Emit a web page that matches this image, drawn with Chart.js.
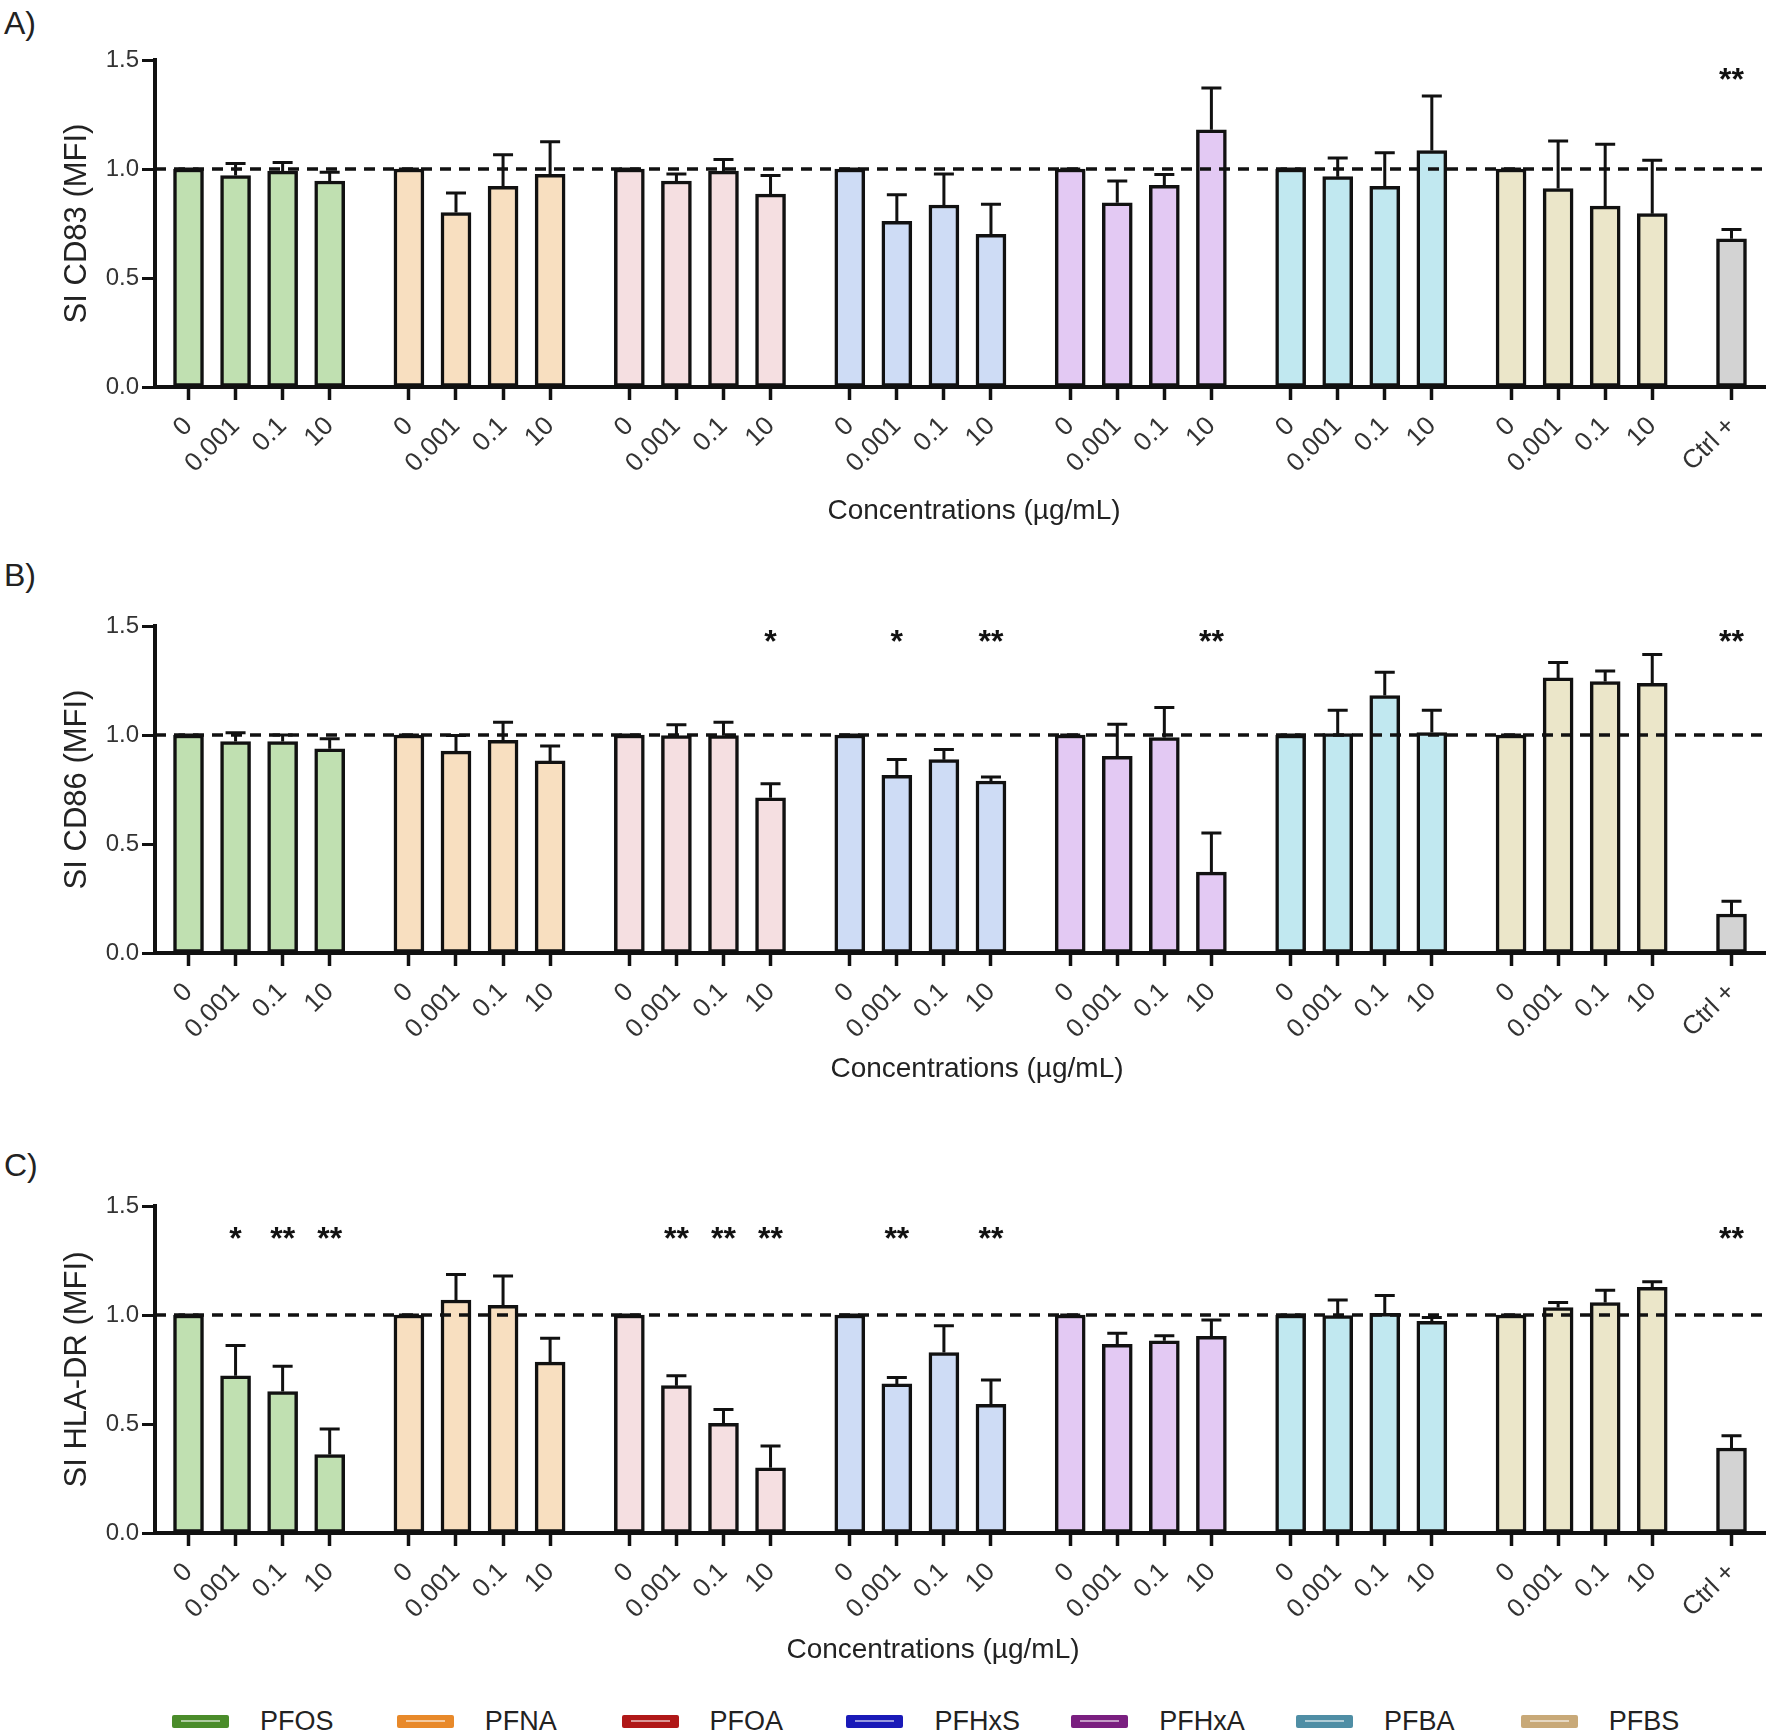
<!DOCTYPE html>
<html>
<head>
<meta charset="utf-8">
<script src="https://cdn.jsdelivr.net/npm/chart.js@4.4.1/dist/chart.umd.min.js"></script>
<style>
body{margin:0;background:#fff;width:1772px;height:1735px;position:relative;overflow:hidden;font-family:"Liberation Sans",Arial,sans-serif}
canvas{position:absolute;left:0}
.tag{position:absolute;left:4px;font-size:32px;line-height:32px;color:#222}
.legend{position:absolute;left:172px;top:1704px;height:34px;display:flex}
.item{width:224.8px;display:flex;align-items:center;font-size:27px;color:#222}
.swatch{width:57px;height:13px;border-radius:2px;margin-right:31px;position:relative}
.swatch i{position:absolute;left:9px;right:9px;top:5px;height:2px;opacity:.55;background:#fff}
</style>
</head>
<body>
<div class="tag" style="top:7px">A)</div>
<div class="tag" style="top:559px">B)</div>
<div class="tag" style="top:1149px">C)</div>
<canvas id="cd83" width="1772" height="532" style="top:0"></canvas>
<canvas id="cd86" width="1772" height="524" style="top:566px"></canvas>
<canvas id="hladr" width="1772" height="525" style="top:1146px"></canvas>
<div class="legend" id="legend"></div>
<script>
const compounds = ['PFOS', 'PFNA', 'PFOA', 'PFHxS', 'PFHxA', 'PFBA', 'PFBS'];
const concentrations = ['0', '0.001', '0.1', '10'];
const controlLabel = 'Ctrl +';
const yTicks = [0, 0.5, 1.0, 1.5];
const yTickLabels = ['0.0', '0.5', '1.0', '1.5'];

// bar fills per compound, then the positive control
const compoundFills = ['#c0e0b1', '#f8dfc0', '#f5dfe1', '#cedcf5', '#e3c9f3', '#c1e8f0', '#ebe6c9'];
const controlFill = '#d3d3d3';
const legendColors = ['#4a8c2a', '#e8892a', '#b01818', '#1a1ab8', '#7a1f80', '#4f8ea5', '#c8a978'];

// means and SD in order PFOS 0..10, PFNA 0..10, ... PFBS 0..10, Ctrl +
const cd83Mean = [1.00, 0.97, 0.99, 0.945, 1.00, 0.80, 0.92, 0.975, 1.00, 0.945, 0.99, 0.885,
  1.00, 0.76, 0.835, 0.70, 1.00, 0.845, 0.925, 1.18, 1.00, 0.965, 0.92, 1.085,
  1.00, 0.91, 0.83, 0.795, 0.68];
const cd83Sd = [0, 0.055, 0.04, 0.04, 0, 0.09, 0.145, 0.15, 0, 0.032, 0.054, 0.085,
  0, 0.122, 0.142, 0.138, 0, 0.10, 0.05, 0.192, 0, 0.085, 0.155, 0.25,
  0, 0.218, 0.283, 0.245, 0.042];
const cd83Stars = ['', '', '', '', '', '', '', '', '', '', '', '',
  '', '', '', '', '', '', '', '', '', '', '', '',
  '', '', '', '', '**'];

const cd86Mean = [1.00, 0.97, 0.97, 0.937, 1.00, 0.926, 0.975, 0.881, 1.00, 0.997, 0.997, 0.712,
  1.00, 0.815, 0.887, 0.789, 1.00, 0.902, 0.988, 0.371, 1.00, 1.006, 1.181, 1.011,
  1.00, 1.262, 1.245, 1.237, 0.179];
const cd86Sd = [0, 0.04, 0.03, 0.046, 0, 0.072, 0.083, 0.068, 0, 0.05, 0.061, 0.064,
  0, 0.073, 0.047, 0.018, 0, 0.147, 0.138, 0.18, 0, 0.107, 0.107, 0.102,
  0, 0.07, 0.049, 0.132, 0.058];
const cd86Stars = ['', '', '', '', '', '', '', '', '', '', '', '*',
  '', '*', '', '**', '', '', '', '**', '', '', '', '',
  '', '', '', '', '**'];

const hladrMean = [1.00, 0.721, 0.649, 0.36, 1.00, 1.069, 1.044, 0.784, 1.00, 0.676, 0.503, 0.299,
  1.00, 0.684, 0.828, 0.59, 1.00, 0.865, 0.882, 0.902, 1.00, 0.997, 1.008, 0.971,
  1.00, 1.034, 1.057, 1.127, 0.39];
const hladrSd = [0, 0.139, 0.116, 0.117, 0, 0.117, 0.135, 0.109, 0, 0.045, 0.063, 0.10,
  0, 0.029, 0.123, 0.112, 0, 0.051, 0.023, 0.075, 0, 0.072, 0.081, 0.018,
  0, 0.023, 0.056, 0.025, 0.056];
const hladrStars = ['', '*', '**', '**', '', '', '', '', '', '**', '**', '**',
  '', '**', '', '**', '', '', '', '', '', '', '', '',
  '', '', '', '', '**'];

const FONT = '"Liberation Sans", Arial, sans-serif';
const X_TITLE = 'Concentrations (µg/mL)';
const GROUP_STEP = 4.684; // distance between compound groups, in bar slots

// slot index on the x scale for every bar, and matching labels / fills
const slots = [], tickLabels = [], fills = [];
compounds.forEach((c, g) => {
  concentrations.forEach((lab, i) => {
    slots.push(g * GROUP_STEP + i);
    tickLabels.push(lab);
    fills.push(compoundFills[g]);
  });
});
slots.push(compounds.length * GROUP_STEP);
tickLabels.push(controlLabel);
fills.push(controlFill);

// dashed reference line, error bars, significance stars and x title
const marks = {
  id: 'marks',
  afterDatasetsDraw(chart, args, opts) {
    const {ctx, chartArea, scales: {x, y}} = chart;
    const bars = chart.getDatasetMeta(0).data;
    ctx.save();
    ctx.strokeStyle = '#111';
    ctx.lineWidth = 3;
    bars.forEach((bar, i) => {
      const top = y.getPixelForValue(opts.mean[i] + opts.sd[i]);
      ctx.beginPath();
      ctx.moveTo(bar.x, bar.y);
      ctx.lineTo(bar.x, top);
      ctx.moveTo(bar.x - 10, top);
      ctx.lineTo(bar.x + 10, top);
      ctx.stroke();
    });
    const ry = y.getPixelForValue(1);
    ctx.lineWidth = 3.5;
    ctx.setLineDash([11, 8]);
    ctx.beginPath();
    ctx.moveTo(chartArea.left, ry);
    ctx.lineTo(chartArea.right, ry);
    ctx.stroke();
    ctx.setLineDash([]);
    ctx.fillStyle = '#111';
    ctx.font = 'bold 32px ' + FONT;
    ctx.textAlign = 'center';
    ctx.textBaseline = 'alphabetic';
    const sy = y.getPixelForValue(opts.starLevel) + 0.57 * 32;
    bars.forEach((bar, i) => {
      if (opts.stars[i]) ctx.fillText(opts.stars[i], bar.x, sy);
    });
    ctx.fillStyle = '#222';
    ctx.font = '28px ' + FONT;
    ctx.textBaseline = 'middle';
    ctx.fillText(X_TITLE, (chartArea.left + chartArea.right) / 2 + opts.titleShift, x.bottom - 21);
    ctx.restore();
  }
};

function makePanel(id, yTitle, mean, sd, stars, starLevel, xHeight, titleShift) {
  const data = slots.map((s, i) => ({x: s, y: mean[i]}));
  return new Chart(document.getElementById(id), {
    type: 'bar',
    data: {
      datasets: [{
        data: data,
        backgroundColor: fills,
        borderColor: '#111',
        borderWidth: 3.5,
        borderSkipped: false,
        barThickness: 30
      }]
    },
    options: {
      responsive: false,
      animation: false,
      events: [],
      layout: {padding: {top: 60, right: 7, left: 0, bottom: 0}},
      plugins: {
        legend: {display: false},
        tooltip: {enabled: false},
        marks: {mean: mean, sd: sd, stars: stars, starLevel: starLevel, titleShift: titleShift}
      },
      scales: {
        x: {
          type: 'linear',
          offset: false,
          min: -0.712,
          max: 33.5,
          afterBuildTicks: s => { s.ticks = slots.map(v => ({value: v})); },
          afterFit: s => { s.height = xHeight; },
          ticks: {
            autoSkip: false,
            minRotation: 45,
            maxRotation: 45,
            padding: 11,
            color: '#333',
            font: {family: FONT, size: 26},
            callback: (v, i) => tickLabels[i]
          },
          grid: {drawOnChartArea: false, offset: false, tickLength: 13, tickWidth: 3.5, tickColor: '#111'},
          border: {color: '#111', width: 4},
          title: {display: false}
        },
        y: {
          min: 0,
          max: 1.5,
          afterBuildTicks: s => { s.ticks = yTicks.map(v => ({value: v})); },
          afterFit: s => { s.width = 155; },
          ticks: {
            padding: 3,
            color: '#333',
            font: {family: FONT, size: 24},
            callback: (v, i) => yTickLabels[i]
          },
          grid: {drawOnChartArea: false, tickLength: 13, tickWidth: 3, tickColor: '#111'},
          border: {color: '#111', width: 4},
          title: {display: true, text: yTitle, color: '#222',
            font: {family: FONT, size: 31}, padding: {top: 59, bottom: 0}}
        }
      }
    },
    plugins: [marks]
  });
}

makePanel('cd83', 'SI CD83 (MFI)', cd83Mean, cd83Sd, cd83Stars, 1.445, 145, 14);
makePanel('cd86', 'SI CD86 (MFI)', cd86Mean, cd86Sd, cd86Stars, 1.465, 137, 17);
makePanel('hladr', 'SI HLA-DR (MFI)', hladrMean, hladrSd, hladrStars, 1.385, 138, -27);

const legend = document.getElementById('legend');
compounds.forEach((c, k) => {
  const item = document.createElement('div');
  item.className = 'item';
  item.innerHTML = `<span class="swatch" style="background:${legendColors[k]}"><i></i></span>${c}`;
  legend.appendChild(item);
});
</script>
</body>
</html>
